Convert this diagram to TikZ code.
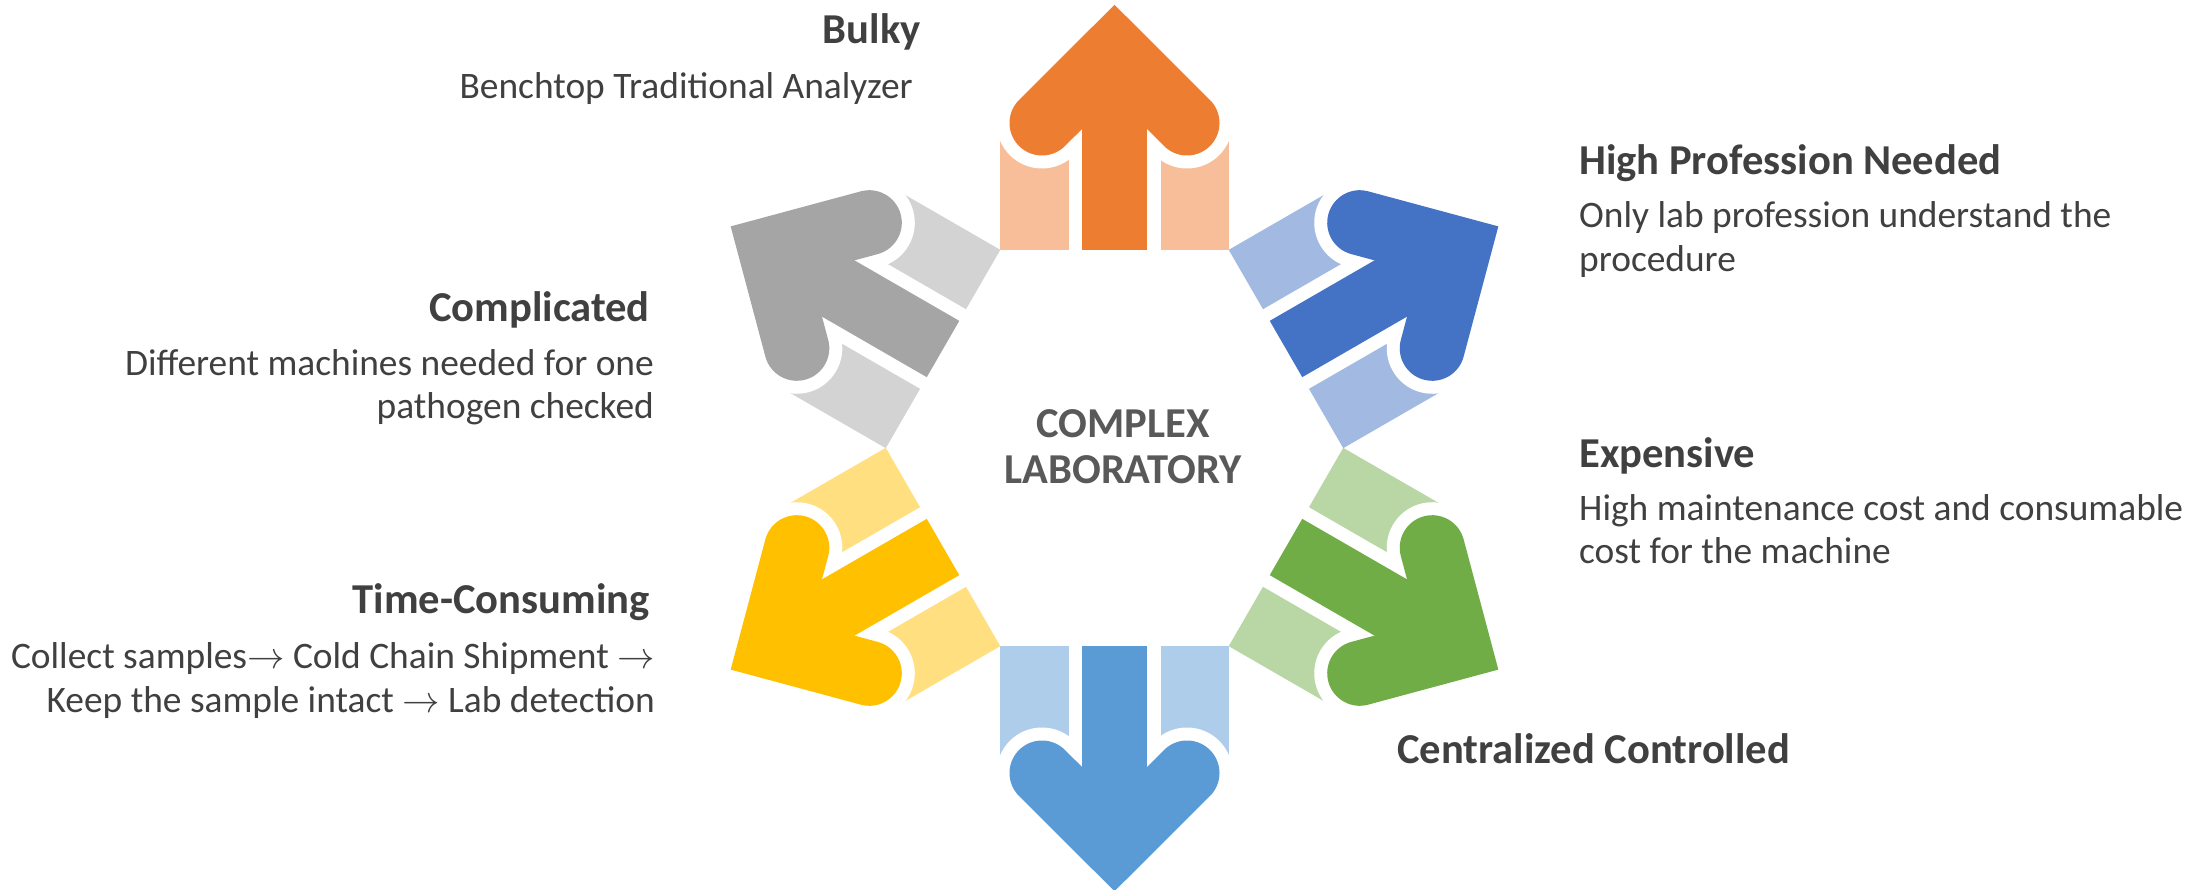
\RequirePackage{fix-cm}
\documentclass[tikz,border=0pt]{standalone}
\usepackage{fontspec}
\setmainfont{Carlito}
\definecolor{txt}{HTML}{404040}
\definecolor{ctr}{HTML}{595959}
\definecolor{orD}{HTML}{ED7D31}\definecolor{orL}{HTML}{F7BE99}
\definecolor{blD}{HTML}{4472C4}\definecolor{blL}{HTML}{A2B9E1}
\definecolor{grD}{HTML}{70AD47}\definecolor{grL}{HTML}{B8D7A4}
\definecolor{skD}{HTML}{5B9BD5}\definecolor{skL}{HTML}{AECDEA}
\definecolor{yeD}{HTML}{FFC000}\definecolor{yeL}{HTML}{FFDF80}
\definecolor{gyD}{HTML}{A5A5A5}\definecolor{gyL}{HTML}{D3D3D3}
\newcommand{\hexarrow}[3]{%
\begin{scope}[shift={(1114.5,448)}, y=1pt, rotate=#1-90]
  \fill[#3] (-114.5,198) rectangle (-46,325);
  \fill[#3] (46,198) rectangle (114.5,325);
  \draw[white, line width=91pt, line cap=round, line join=miter] (-72.5,325) -- (0,397.3) -- (72.5,325);
  \fill[#2] (-32.5,198) rectangle (32.5,360);
  \draw[#2, line width=65pt, line cap=round, line join=miter] (-72.5,325) -- (0,397.3) -- (72.5,325);
\end{scope}}
\newcommand{\ra}{$\rightarrow$}
\begin{document}
\begin{tikzpicture}[x=1pt,y=-1pt,
  ttl/.style={font=\fontsize{42.6}{48}\selectfont\bfseries, text=txt, inner sep=0pt},
  bdy/.style={font=\fontsize{37.4}{42}\selectfont, text=txt, inner sep=0pt},
  ctrtxt/.style={font=\fontsize{42.6}{48}\selectfont\bfseries, text=ctr, inner sep=0pt, anchor=base}]
\useasboundingbox[fill=white] (0,0) rectangle (2208,890);
\hexarrow{90}{orD}{orL}
\hexarrow{30}{blD}{blL}
\hexarrow{-30}{grD}{grL}
\hexarrow{-90}{skD}{skL}
\hexarrow{210}{yeD}{yeL}
\hexarrow{150}{gyD}{gyL}
% centre
\node[ctrtxt] (c1) at (1123,437) {COMPLEX};
\node[ctrtxt] (c2) at (1123,483) {LABORATORY};
% Bulky
\node[ttl, anchor=base east] (b1) at (921,44) {Bulky};
\node[bdy, anchor=base east] (b2) at (913,99) {Benchtop Traditional Analyzer};
% High Profession
\node[ttl, anchor=base west] (h1) at (1579,175) {High Profession Needed};
\node[bdy, anchor=base west] (h2) at (1579,228) {Only lab profession understand the};
\node[bdy, anchor=base west] (h3) at (1579,272) {procedure};
% Expensive
\node[ttl, anchor=base west] (e1) at (1579,467) {Expensive};
\node[bdy, anchor=base west] (e2) at (1579,520) {High maintenance cost and consumable};
\node[bdy, anchor=base west] (e3) at (1579,563) {cost for the machine};
% Centralized
\node[ttl, anchor=base west] (z1) at (1397,763) {Centralized Controlled};
% Complicated
\node[ttl, anchor=base east] (k1) at (650,322) {Complicated};
\node[bdy, anchor=base east] (k2) at (654,375) {Different machines needed for one};
\node[bdy, anchor=base east] (k3) at (654,418) {pathogen checked};
% Time-Consuming
\node[ttl, anchor=base east] (m1) at (650,613) {Time-Consuming};
\node[bdy, anchor=base east] (m2) at (655,668) {Collect samples\ra{} Cold Chain Shipment \ra};
\node[bdy, anchor=base east] (m3) at (655,712) {Keep the sample intact \ra{} Lab detection};
\end{tikzpicture}
\end{document}
